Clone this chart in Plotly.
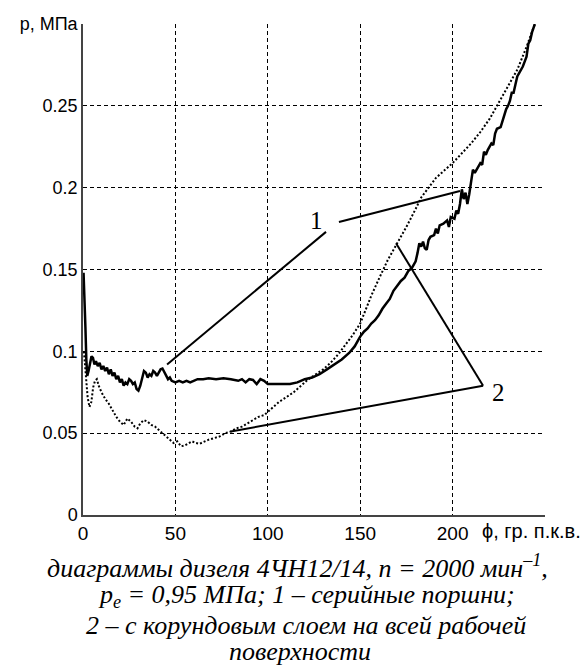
import plotly.graph_objects as go

# ---- data ----
phi_1 = [0.3, 0.8, 1.3, 1.8, 2.3, 3.0, 3.8, 4.6, 5.4, 6.2, 7.0, 8.0, 9.0, 10, 11, 12, 13, 14, 15, 16, 17, 18, 19, 20,
         21, 22, 23, 24, 25, 26, 27, 28, 29, 30, 31, 32, 33, 34, 35, 36, 37, 38, 39, 40, 41, 42, 43, 44, 45, 46, 47,
         48, 50, 52, 54, 56, 58, 60, 62, 65, 68, 72, 76, 80, 84, 86, 88, 90, 92, 94, 96, 98, 100, 104, 108, 112, 116,
         120, 124, 128, 132, 136, 140, 144, 147, 149, 150, 152, 154, 156, 158, 160, 162, 164, 166, 168, 170, 172, 174,
         176, 178, 180, 181, 182, 183, 184, 185, 186, 187, 188, 190, 191, 192, 193, 195, 197, 198, 199, 201, 202, 203,
         204, 205, 206, 207, 208, 209, 210, 211, 212, 214, 215, 216, 217, 218, 219, 221, 222, 223, 224, 226, 227, 228,
         229, 230, 231, 232, 233, 234, 235, 236, 237, 238, 239, 240, 241, 242, 243, 244.5]
p_1 = [0.148, 0.135, 0.115, 0.095, 0.085, 0.088, 0.094, 0.097, 0.096, 0.092, 0.094, 0.091, 0.093, 0.089, 0.091, 0.088,
       0.090, 0.086, 0.089, 0.085, 0.087, 0.083, 0.085, 0.081, 0.083, 0.079, 0.081, 0.080, 0.083, 0.082, 0.080, 0.081,
       0.077, 0.076, 0.079, 0.083, 0.088, 0.087, 0.084, 0.086, 0.085, 0.088, 0.087, 0.085, 0.087, 0.089, 0.0895, 0.087,
       0.085, 0.083, 0.084, 0.082, 0.081, 0.082, 0.081, 0.082, 0.081, 0.082, 0.083, 0.083, 0.0835, 0.083, 0.0835,
       0.083, 0.082, 0.083, 0.081, 0.083, 0.0825, 0.080, 0.083, 0.082, 0.080, 0.080, 0.080, 0.080, 0.081, 0.083,
       0.084, 0.086, 0.089, 0.092, 0.095, 0.099, 0.103, 0.107, 0.109, 0.112, 0.114, 0.117, 0.119, 0.122, 0.126,
       0.129, 0.132, 0.137, 0.140, 0.143, 0.145, 0.149, 0.151, 0.155, 0.160, 0.166, 0.164, 0.167, 0.163, 0.162,
       0.168, 0.170, 0.171, 0.175, 0.172, 0.177, 0.178, 0.180, 0.176, 0.182, 0.181, 0.186, 0.184, 0.190, 0.199,
       0.193, 0.197, 0.190, 0.196, 0.205, 0.211, 0.209, 0.213, 0.215, 0.214, 0.222, 0.220, 0.223, 0.227, 0.226,
       0.233, 0.236, 0.237, 0.241, 0.244, 0.248, 0.250, 0.253, 0.258, 0.258, 0.263, 0.268, 0.270, 0.272, 0.274,
       0.277, 0.280, 0.288, 0.290, 0.295, 0.300]

phi_2 = [0.5, 1.5, 2.5, 3.5, 4.5, 5.5, 6.5, 7.5, 8.5, 10, 12, 14, 16, 18, 20, 22, 24, 26, 28, 29.5, 31, 33, 35, 37,
         39, 41, 43, 45, 47, 49, 51, 53, 55, 57, 59, 61, 63, 65, 68, 71, 74, 77, 80, 83, 86, 89, 92, 95, 98, 100,
         103, 106, 110, 114, 118, 122, 126, 130, 134, 138, 142, 146, 150, 153, 156, 160, 165, 170, 175, 180, 183,
         187, 191, 195, 200, 205, 210, 215, 220, 225, 230, 235, 240, 244.5]
p_2 = [0.100, 0.085, 0.072, 0.066, 0.069, 0.078, 0.082, 0.083, 0.079, 0.075, 0.071, 0.068, 0.064, 0.060, 0.057, 0.055,
       0.059, 0.057, 0.054, 0.053, 0.056, 0.058, 0.057, 0.055, 0.054, 0.052, 0.050, 0.048, 0.046, 0.044, 0.045,
       0.042, 0.0425, 0.044, 0.045, 0.044, 0.0435, 0.0445, 0.046, 0.047, 0.048, 0.050, 0.051, 0.053, 0.054, 0.056,
       0.058, 0.060, 0.061, 0.063, 0.066, 0.069, 0.072, 0.075, 0.079, 0.083, 0.086, 0.089, 0.093, 0.098, 0.104,
       0.110, 0.117, 0.126, 0.134, 0.144, 0.156, 0.166, 0.176, 0.187, 0.194, 0.200, 0.206, 0.210, 0.215, 0.221,
       0.227, 0.234, 0.242, 0.252, 0.262, 0.272, 0.286, 0.300]

x_ticks = [0, 50, 100, 150, 200, 250]
x_tick_text = ["0", "50", "100", "150", "200", " "]
y_ticks = [0, 0.05, 0.1, 0.15, 0.2, 0.25, 0.3]
y_tick_text = ["0", "0.05", "0.1", "0.15", "0.2", "0.25", "p, МПа"]
x_axis_label = "ϕ, гр. п.к.в."

# leader lines for curve labels: (x0, y0, x1, y1)
leaders = [(45.5, 0.092, 131.5, 0.173),
           (138.5, 0.179, 204, 0.198),
           (169.4, 0.166, 216.5, 0.079),
           (80, 0.051, 216.5, 0.079)]
curve_labels = [("1", 126.6, 0.180), ("2", 224.6, 0.075)]

caption_lines = [
    "диаграммы дизеля 4ЧН12/14, n = 2000 мин<sup>–1</sup>,",
    "p<sub>e</sub> = 0,95 МПа; 1 – серийные поршни;",
    "2 – с корундовым слоем на всей рабочей",
    "поверхности",
]

fig = go.Figure()
fig.add_trace(go.Scatter(x=phi_1, y=p_1, mode="lines",
                         line=dict(color="black", width=2.5), showlegend=False))
fig.add_trace(go.Scatter(x=phi_2, y=p_2, mode="lines",
                         line=dict(color="black", width=2, dash="2px,2px"), showlegend=False))

for (x0, y0, x1, y1) in leaders:
    fig.add_shape(type="line", x0=x0, y0=y0, x1=x1, y1=y1, xref="x", yref="y",
                  line=dict(color="black", width=2))

serif = "Liberation Serif"
sans = "Liberation Sans"

for (t, xx, yy) in curve_labels:
    fig.add_annotation(x=xx, y=yy, text=t, showarrow=False, xref="x", yref="y",
                       font=dict(family=serif, size=25, color="black"))

fig.add_annotation(x=250, y=0, xref="x", yref="y", text=x_axis_label, showarrow=False,
                   xanchor="center", yanchor="middle", xshift=-14, yshift=-16,
                   font=dict(family=sans, size=20, color="black"))

cap_shifts = [-51, -81, -110, -136]
cap_x = [0.465, 0.484, 0.482, 0.47]
cap_sizes = [26, 26, 26, 26]
for line, ys, cx, cs in zip(caption_lines, cap_shifts, cap_x, cap_sizes):
    fig.add_annotation(x=cx, y=0, xref="paper", yref="paper", text=line, showarrow=False,
                       xanchor="center", yanchor="middle", yshift=ys,
                       font=dict(family=serif, size=cs, color="black", style="italic"))

fig.update_xaxes(range=[0, 250], tickvals=x_ticks, ticktext=x_tick_text,
                 showgrid=True, gridcolor="black", gridwidth=1, griddash="4px,3px",
                 showline=True, linecolor="#444", linewidth=1.5, zeroline=False,
                 ticks="", tickfont=dict(family=sans, size=19, color="black"))
fig.update_yaxes(range=[0, 0.3], tickvals=y_ticks, ticktext=y_tick_text,
                 showgrid=True, gridcolor="black", gridwidth=1, griddash="4px,3px",
                 showline=True, linecolor="#444", linewidth=1.5, zeroline=False,
                 ticks="", tickfont=dict(family=sans, size=18, color="black"))

fig.update_layout(width=584, height=666, margin=dict(l=83, r=39, t=24, b=151),
                  paper_bgcolor="white", plot_bgcolor="white")

fig.write_html("out.html")
